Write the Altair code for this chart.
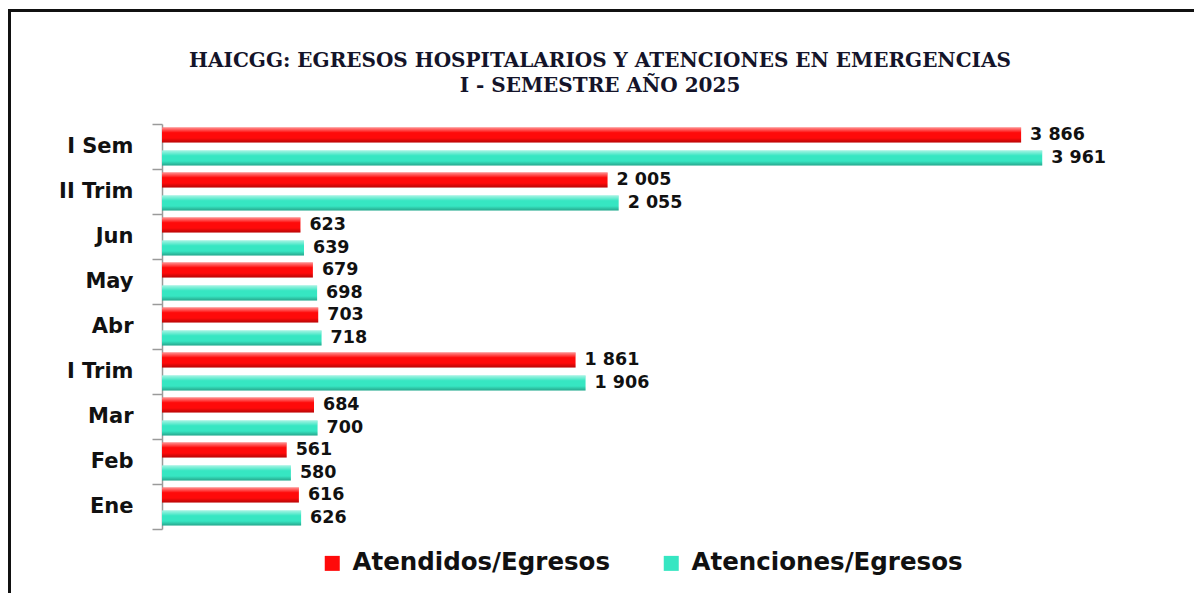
import altair as alt
import pandas as pd

categories = ["I Sem", "II Trim", "Jun", "May", "Abr", "I Trim", "Mar", "Feb", "Ene"]
atendidos = [3866, 2005, 623, 679, 703, 1861, 684, 561, 616]
atenciones = [3961, 2055, 639, 698, 718, 1906, 700, 580, 626]
series_names = ["Atendidos/Egresos", "Atenciones/Egresos"]
series_colors = ["#FF0A0A", "#36E6C2"]
title_lines = ["HAICGG: EGRESOS HOSPITALARIOS Y ATENCIONES EN EMERGENCIAS",
               "I - SEMESTRE AÑO 2025"]


def fmt(v):
    return f"{v:,}".replace(",", " ")


rows = []
for c, a, b in zip(categories, atendidos, atenciones):
    rows.append({"cat": c, "serie": series_names[0], "valor": a, "label": fmt(a)})
    rows.append({"cat": c, "serie": series_names[1], "valor": b, "label": fmt(b)})
df = pd.DataFrame(rows)

W, H = 1000, 405
PAD = {"left": 154, "top": 116, "right": 32, "bottom": 64}

y_enc = alt.Y(
    "cat:N", sort=categories,
    scale=alt.Scale(paddingInner=0, paddingOuter=0),
    axis=alt.Axis(title=None, labelFont="DejaVu Sans", labelFontSize=21,
                  labelFontWeight="bold", labelColor="#111111", labelPadding=19,
                  tickSize=10, tickColor="#9a9a9a", domainColor="#9a9a9a",
                  tickBand="extent", domainWidth=1.5, tickWidth=1.5, grid=False),
)
yoff = alt.YOffset("serie:N", sort=series_names,
                   scale=alt.Scale(paddingInner=0.35, paddingOuter=0.15))
x_enc = alt.X("valor:Q", scale=alt.Scale(domain=[0, 4500]), axis=None)

base = alt.Chart(df)

bars = base.mark_bar().encode(
    x=x_enc, y=y_enc, yOffset=yoff,
    color=alt.Color(
        "serie:N",
        scale=alt.Scale(domain=series_names, range=series_colors),
        legend=alt.Legend(title=None, orient="none", direction="horizontal",
                          legendX=158, legendY=427, symbolType="square",
                          symbolSize=225, symbolStrokeWidth=0,
                          labelFont="DejaVu Sans", labelFontSize=24.5,
                          labelFontWeight="bold", labelColor="#111111",
                          labelOffset=8, columnPadding=48, labelLimit=400),
    ),
)

gloss = base.mark_bar(
    color=alt.Gradient(
        gradient="linear", x1=0, x2=0, y1=0, y2=1,
        stops=[alt.GradientStop(offset=0, color="rgba(255,255,255,0.55)"),
               alt.GradientStop(offset=0.35, color="rgba(255,255,255,0.0)"),
               alt.GradientStop(offset=0.7, color="rgba(0,0,0,0.0)"),
               alt.GradientStop(offset=1, color="rgba(0,0,0,0.28)")])
).encode(x=x_enc, y=y_enc, yOffset=yoff)

labels = base.mark_text(
    align="left", baseline="middle", dx=9, font="DejaVu Sans",
    fontSize=17.5, fontWeight="bold", color="#111111"
).encode(x=x_enc, y=y_enc, yOffset=yoff, text="label:N")

single = pd.DataFrame({"k": [0]})
title_style = dict(align="center", baseline="alphabetic", font="DejaVu Serif",
                   fontSize=20, fontWeight="bold", color="#14142a")
title1 = alt.Chart(single).mark_text(text=title_lines[0], **title_style).encode(
    x=alt.value(438), y=alt.value(-57))
title2 = alt.Chart(single).mark_text(text=title_lines[1], **title_style).encode(
    x=alt.value(438), y=alt.value(-32))

frame_top = alt.Chart(single).mark_rule(color="#111111", strokeWidth=3).encode(
    x=alt.value(-154), x2=alt.value(W + 32), y=alt.value(-113.5))
frame_left = alt.Chart(single).mark_rule(color="#111111", strokeWidth=3).encode(
    x=alt.value(-152.5), y=alt.value(-115), y2=alt.value(H + 64))

chart = alt.layer(bars, gloss, labels, title1, title2, frame_top, frame_left).properties(
    width=W, height=H,
    padding=PAD,
    autosize=alt.AutoSizeParams(type="none"),
    background="white",
).configure_view(stroke=None)

chart.save("out.html", embed_options={"renderer": "svg", "actions": False})
